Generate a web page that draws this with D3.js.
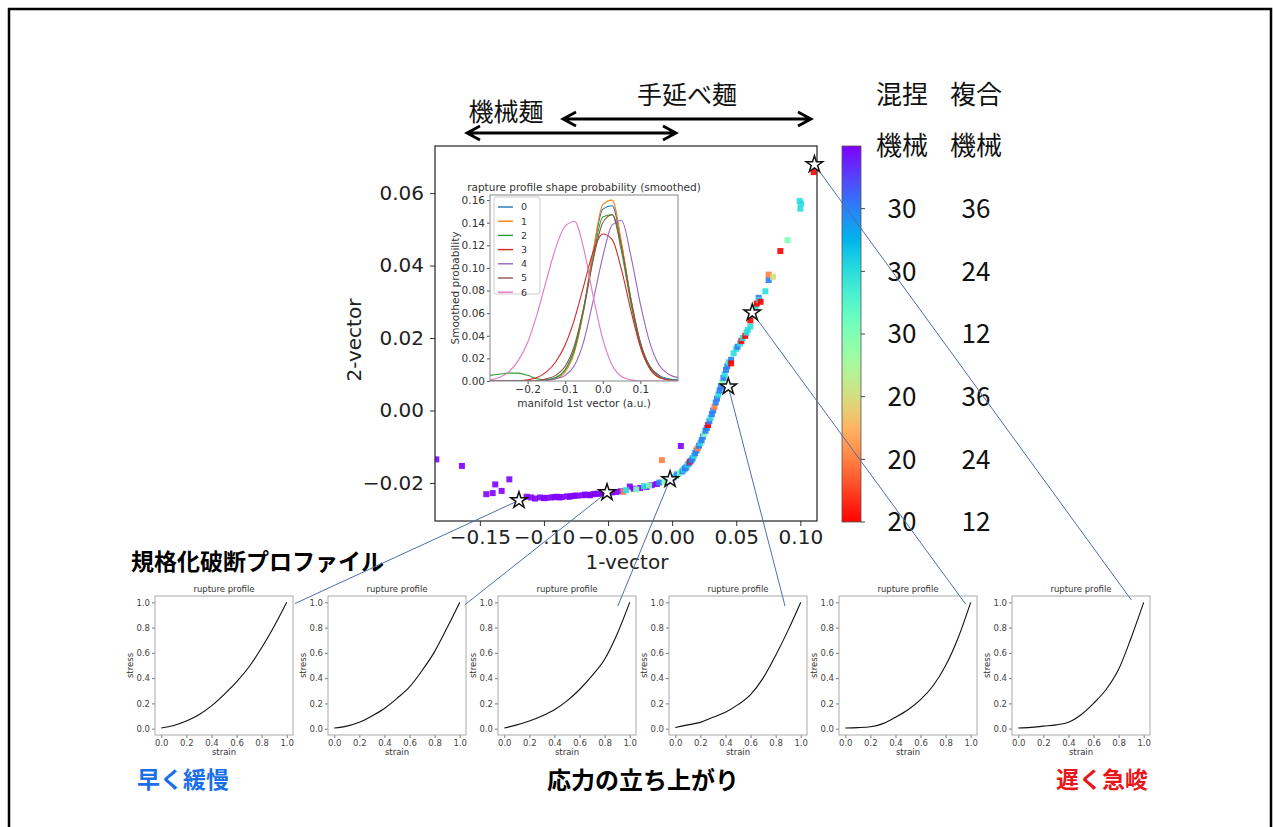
<!DOCTYPE html>
<html>
<head>
<meta charset="utf-8">
<script src="https://cdn.jsdelivr.net/npm/d3@7"></script>
<style>
body { margin: 0; background: #fff; }
svg text { font-family: "DejaVu Sans", sans-serif; }
svg .jp { font-family: "Noto Sans CJK JP", sans-serif; }
</style>
</head>
<body>
<svg id="chart" width="1273" height="827"></svg>
<script>
// ---- scatter of the manifold (1-vector, 2-vector), class 0 = 20/12 ... 6 = machine
const scatterX = [
-0.184,-0.164,-0.145,-0.140,-0.138,-0.133,-0.127,-0.1135,-0.110,-0.107,-0.103,-0.100,-0.098,-0.094,-0.092,-0.090,-0.088,-0.086,-0.082,-0.080,-0.078,-0.076,-0.074,-0.070,-0.068,-0.066,-0.064,-0.062,-0.060,-0.058,-0.056,-0.054,-0.052,-0.047,-0.044,-0.040,-0.033,-0.030,-0.025,-0.020,-0.016,-0.012,0.0068,-0.004,
-0.038,-0.036,-0.028,-0.022,-0.018,-0.010,-0.008,-0.006,-0.003,-0.001,
0.001,0.003,0.004,0.006,0.008,0.009,0.010,0.011,0.012,0.013,0.014,0.015,0.016,0.017,0.018,0.019,0.020,0.021,0.022,0.023,0.024,0.025,0.026,0.027,0.028,0.029,0.030,0.031,0.032,0.033,0.034,0.035,0.036,0.037,0.038,0.039,0.040,0.041,0.042,0.043,0.044,0.046,0.046,0.048,0.050,0.051,0.053,0.054,0.055,0.057,0.058,0.059,0.061,0.061,0.063,0.065,0.066,0.0675,0.068,0.069,0.0727,0.0753,0.0753,0.0787,0.0844,0.090,0.0995,0.1005,0.100,0.1104]
const scatterY = [
-0.0135,-0.0153,-0.0231,-0.0228,-0.0204,-0.0222,-0.0190,-0.0238,-0.0240,-0.0243,-0.0240,-0.0242,-0.0241,-0.0240,-0.0239,-0.0238,-0.0240,-0.0239,-0.0237,-0.0238,-0.0236,-0.0235,-0.0235,-0.0234,-0.0232,-0.0233,-0.0234,-0.0231,-0.0230,-0.0230,-0.0229,-0.0228,-0.0227,-0.0226,-0.0225,-0.0223,-0.0210,-0.0216,-0.0214,-0.0211,-0.0206,-0.0203,-0.0098,-0.0196,
-0.0224,-0.0220,-0.0218,-0.0209,-0.0207,-0.0199,-0.0137,-0.0196,-0.0190,-0.0192,
-0.0185,-0.0180,-0.0176,-0.0172,-0.0168,-0.0163,-0.0160,-0.0157,-0.0150,-0.0146,-0.0141,-0.0138,-0.0132,-0.0125,-0.0118,-0.0110,-0.0104,-0.0097,-0.0090,-0.0082,-0.0072,-0.0065,-0.0056,-0.0048,-0.0040,-0.0030,-0.0020,-0.0010,0.0000,0.0010,0.0022,0.0033,0.0044,0.0055,0.0065,0.0078,0.0090,0.0100,0.0112,0.0122,0.0133,0.0140,0.0130,0.0158,0.0170,0.0176,0.0185,0.0192,0.0200,0.0206,0.0215,0.0222,0.0232,0.0249,0.0265,0.0285,0.0295,0.0311,0.0305,0.0300,0.0329,0.0360,0.0375,0.0369,0.0440,0.0470,0.0578,0.0571,0.0557,0.0658]
const scatterClass = [
6,6,6,6,6,6,6,6,6,6,6,6,6,6,6,6,6,6,6,6,6,6,6,6,6,6,6,6,6,6,6,6,6,6,6,6,6,6,6,6,6,6,6,6,
1,4,3,4,3,5,1,3,4,5,
5,4,5,3,5,4,5,5,4,5,0,5,5,4,5,5,1,5,4,5,5,3,5,5,0,5,4,5,5,1,5,5,4,5,5,3,5,4,5,5,4,5,0,4,4,5,4,0,4,0,4,4,4,0,5,4,0,5,4,0,4,5,1,2,0,3,4,4,4,0]

// stars marking the six profiles shown below
const starX = [-0.1195, -0.0508, -0.0016, 0.0438, 0.0625, 0.111]
const starY = [-0.0248, -0.0226, -0.0190, 0.0066, 0.0270, 0.0679]

// ---- inset: smoothed shape probability per profile class
const probX = [-0.300,-0.275,-0.250,-0.225,-0.200,-0.175,-0.150,-0.125,-0.100,-0.075,-0.050,-0.025,0.000,0.025,0.050,0.075,0.100,0.125,0.150,0.175,0.200]
const prob0 = [0,0,0,0,0,0.0002,0.001,0.003,0.010,0.029,0.066,0.115,0.152,0.155,0.120,0.072,0.034,0.013,0.005,0.002,0.001]
const prob1 = [0,0,0,0,0,0,0.0005,0.002,0.008,0.026,0.064,0.116,0.156,0.160,0.122,0.071,0.031,0.011,0.003,0.001,0]
const prob2 = [0.005,0.006,0.007,0.007,0.005,0.002,0.001,0.003,0.010,0.028,0.064,0.110,0.145,0.147,0.114,0.068,0.031,0.011,0.003,0.001,0]
const prob3 = [0,0,0,0,0.001,0.003,0.008,0.017,0.032,0.055,0.085,0.115,0.130,0.125,0.098,0.062,0.030,0.011,0.003,0.001,0]
const prob4 = [0,0,0,0,0,0,0.0005,0.002,0.005,0.014,0.036,0.072,0.110,0.138,0.142,0.110,0.068,0.034,0.014,0.006,0.003]
const prob5 = [0,0,0,0,0,0.0005,0.002,0.005,0.013,0.032,0.066,0.108,0.140,0.147,0.118,0.072,0.034,0.013,0.004,0.001,0]
const prob6 = [0.001,0.003,0.008,0.018,0.034,0.059,0.089,0.118,0.137,0.141,0.116,0.074,0.037,0.014,0.004,0.001,0,0,0,0,0]
const probSeries = [prob0, prob1, prob2, prob3, prob4, prob5, prob6]
const probLabels = ["0","1","2","3","4","5","6"]
const probColors = ["#1f77b4","#ff7f0e","#2ca02c","#d62728","#9467bd","#8c564b","#e377c2"]

// ---- normalised rupture profiles (strain vs stress)
const profileX = [0,0.1,0.2,0.3,0.4,0.5,0.6,0.7,0.8,0.9,1.0]
const profile1 = [0.005,0.025,0.06,0.11,0.18,0.27,0.37,0.49,0.64,0.81,1.0]
const profile2 = [0.005,0.02,0.05,0.10,0.16,0.24,0.33,0.46,0.61,0.80,1.0]
const profile3 = [0.005,0.03,0.06,0.10,0.15,0.22,0.31,0.42,0.55,0.75,1.0]
const profile4 = [0.01,0.03,0.05,0.09,0.13,0.19,0.27,0.40,0.58,0.78,1.0]
const profile5 = [0.005,0.008,0.015,0.04,0.09,0.15,0.23,0.34,0.50,0.72,1.0]
const profile6 = [0.005,0.01,0.02,0.03,0.05,0.11,0.20,0.31,0.47,0.72,1.0]
const profiles = [profile1, profile2, profile3, profile4, profile5, profile6]
// where each connector line lands inside its small plot (strain, stress)
const connectEnd = [[1.065,0.99],[1.04,0.98],[0.905,0.97],[0.875,0.97],[0.96,0.985],[0.9,1.02]]

// ---- colour bar labels (kneading / compound), bottom to top
const cbarColA = ["20","20","20","30","30","30","機械"]
const cbarColB = ["12","24","36","12","24","36","機械"]

const svg = d3.select("#chart")

// matplotlib "rainbow" colormap
function rainbow(t) {
    const r = Math.min(1, Math.abs(2 * t - 0.5)),
          g = Math.sin(Math.PI * t),
          b = Math.cos(Math.PI * t / 2)
    return d3.rgb(r * 255, g * 255, Math.max(0, b) * 255).formatHex()
}
const classColor = c => rainbow(1 - c / 6)

// outer frame
svg.append("rect")
    .attr("x", 9).attr("y", 9).attr("width", 1262).attr("height", 840)
    .attr("fill", "none").attr("stroke", "#000").attr("stroke-width", 2.5)

// ================= main scatter =================
const dims = { left: 435, right: 817, top: 146, bottom: 521 }
const xScale = d3.scaleLinear().domain([-0.185, 0.113]).range([dims.left, dims.right])
const yScale = d3.scaleLinear().domain([-0.0305, 0.073]).range([dims.bottom, dims.top])

const fmt2 = d3.format(".2f")
const xAxis = svg.append("g")
    .attr("transform", `translate(0,${dims.bottom})`)
    .call(d3.axisBottom(xScale).tickValues([-0.15,-0.10,-0.05,0,0.05,0.10]).tickFormat(fmt2).tickSizeOuter(0).tickSize(5).tickPadding(4))
const yAxis = svg.append("g")
    .attr("transform", `translate(${dims.left},0)`)
    .call(d3.axisLeft(yScale).tickValues([-0.02,0,0.02,0.04,0.06]).tickFormat(fmt2).tickSizeOuter(0).tickSize(5).tickPadding(6))
;[xAxis, yAxis].forEach(a => {
    a.select(".domain").remove()
    a.selectAll("text").attr("font-size", 20).attr("fill", "#222")
    a.selectAll(".tick line").attr("stroke", "#333")
})

svg.append("text").attr("x", 627).attr("y", 569).attr("text-anchor", "middle")
    .attr("font-size", 20).attr("fill", "#222").text("1-vector")
svg.append("text").attr("transform", "translate(361,340) rotate(-90)").attr("text-anchor", "middle")
    .attr("font-size", 20).attr("fill", "#222").text("2-vector")

const plotArea = svg.append("g")
svg.append("clipPath").attr("id", "mainClip").append("rect")
    .attr("x", dims.left).attr("y", dims.top)
    .attr("width", dims.right - dims.left).attr("height", dims.bottom - dims.top)
plotArea.attr("clip-path", "url(#mainClip)")
    .selectAll("rect.pt")
    .data(d3.range(scatterX.length))
    .join("rect")
    .attr("class", "pt")
    .attr("x", i => xScale(scatterX[i]) - 3)
    .attr("y", i => yScale(scatterY[i]) - 3)
    .attr("width", 6).attr("height", 6)
    .attr("fill", i => classColor(scatterClass[i]))
    .attr("opacity", 0.9)

svg.append("rect")
    .attr("x", dims.left).attr("y", dims.top)
    .attr("width", dims.right - dims.left).attr("height", dims.bottom - dims.top)
    .attr("fill", "none").attr("stroke", "#222").attr("stroke-width", 1.2)

// ================= inset =================
const ins = { left: 490, right: 678, top: 195, bottom: 381 }
const insX = d3.scaleLinear().domain([-0.3, 0.2]).range([ins.left, ins.right])
const insY = d3.scaleLinear().domain([0, 0.1645]).range([ins.bottom, ins.top])

svg.append("rect").attr("x", 446).attr("y", 176).attr("width", 246).attr("height", 236).attr("fill", "#fff")

const insXAxis = svg.append("g").attr("transform", `translate(0,${ins.bottom})`)
    .call(d3.axisBottom(insX).tickValues([-0.2,-0.1,0,0.1]).tickFormat(d3.format(".1f")).tickSize(3).tickSizeOuter(0).tickPadding(2))
const insYAxis = svg.append("g").attr("transform", `translate(${ins.left},0)`)
    .call(d3.axisLeft(insY).tickValues(d3.range(0, 0.161, 0.02)).tickFormat(fmt2).tickSize(3).tickSizeOuter(0).tickPadding(2))
;[insXAxis, insYAxis].forEach(a => {
    a.select(".domain").remove()
    a.selectAll("text").attr("font-size", 10.5).attr("fill", "#333")
    a.selectAll(".tick line").attr("stroke", "#555")
})

svg.append("clipPath").attr("id", "insClip").append("rect")
    .attr("x", ins.left).attr("y", ins.top).attr("width", ins.right - ins.left).attr("height", ins.bottom - ins.top)

const probLine = d3.line()
    .x((d, i) => insX(probX[i]))
    .y(d => insY(d))
    .curve(d3.curveMonotoneX)

svg.append("g").attr("clip-path", "url(#insClip)")
    .selectAll("path")
    .data(probSeries)
    .join("path")
    .attr("d", probLine)
    .attr("fill", "none")
    .attr("stroke", (d, i) => probColors[i])
    .attr("stroke-width", 1.1)

svg.append("rect")
    .attr("x", ins.left).attr("y", ins.top).attr("width", ins.right - ins.left).attr("height", ins.bottom - ins.top)
    .attr("fill", "none").attr("stroke", "#888")

svg.append("text").attr("x", 584).attr("y", 191).attr("text-anchor", "middle")
    .attr("font-size", 10.5).attr("fill", "#333").text("rapture profile shape probability (smoothed)")
svg.append("text").attr("x", 584).attr("y", 407).attr("text-anchor", "middle")
    .attr("font-size", 10.5).attr("fill", "#333").text("manifold 1st vector (a.u.)")
svg.append("text").attr("transform", "translate(459,288) rotate(-90)").attr("text-anchor", "middle")
    .attr("font-size", 10.5).attr("fill", "#333").text("Smoothed probability")

// legend
const legend = svg.append("g").attr("transform", "translate(494,197)")
legend.append("rect").attr("width", 46).attr("height", 97).attr("rx", 2)
    .attr("fill", "#fff").attr("stroke", "#ccc")
const legRow = legend.selectAll("g").data(probLabels).join("g")
    .attr("transform", (d, i) => `translate(0,${10 + i * 14.2})`)
legRow.append("line").attr("x1", 4).attr("x2", 19).attr("stroke", (d, i) => probColors[i]).attr("stroke-width", 1.4)
legRow.append("text").attr("x", 27).attr("dy", "0.35em").attr("font-size", 9.5).attr("fill", "#333").text(d => d)

// ================= colour bar =================
const cbar = { x: 842, w: 19 }
const cScale = d3.scaleLinear().domain([0, 6]).range([522, 146])
const grad = svg.append("defs").append("linearGradient").attr("id", "rainbowGrad")
    .attr("x1", 0).attr("y1", 0).attr("x2", 0).attr("y2", 1)
grad.selectAll("stop").data(d3.range(0, 1.001, 0.05)).join("stop")
    .attr("offset", d => d).attr("stop-color", d => rainbow(d))
svg.append("rect").attr("x", cbar.x).attr("y", cScale(6)).attr("width", cbar.w).attr("height", cScale(0) - cScale(6))
    .attr("fill", "url(#rainbowGrad)").attr("stroke", "#555").attr("stroke-width", 0.8)
svg.append("g").selectAll("line").data(d3.range(0, 6)).join("line")
    .attr("x1", cbar.x + cbar.w).attr("x2", cbar.x + cbar.w + 4)
    .attr("y1", d => cScale(d)).attr("y2", d => cScale(d)).attr("stroke", "#444")

const cbLabels = svg.append("g").attr("class", "jp").attr("font-size", 26).attr("fill", "#111").attr("text-anchor", "middle")
cbLabels.selectAll("text.a").data(cbarColA).join("text").attr("class", "a jp")
    .attr("x", 902).attr("y", (d, i) => cScale(i)).attr("dy", "0.36em").text(d => d)
cbLabels.selectAll("text.b").data(cbarColB).join("text").attr("class", "b jp")
    .attr("x", 976).attr("y", (d, i) => cScale(i)).attr("dy", "0.36em").text(d => d)
cbLabels.append("text").attr("class", "jp").attr("x", 902).attr("y", 95).attr("dy", "0.36em").text("混捏")
cbLabels.append("text").attr("class", "jp").attr("x", 976).attr("y", 95).attr("dy", "0.36em").text("複合")

// ================= top annotations =================
svg.append("text").attr("class", "jp").attr("x", 506).attr("y", 112).attr("dy", "0.36em")
    .attr("text-anchor", "middle").attr("font-size", 25).attr("fill", "#111").text("機械麺")
svg.append("text").attr("class", "jp").attr("x", 687).attr("y", 95).attr("dy", "0.36em")
    .attr("text-anchor", "middle").attr("font-size", 25).attr("fill", "#111").text("手延べ麺")

function doubleArrow(x1, x2, y) {
    const h = 13, v = 7
    svg.append("path")
        .attr("d", `M${x1},${y}H${x2} M${x1 + h},${y - v}L${x1},${y}L${x1 + h},${y + v} M${x2 - h},${y - v}L${x2},${y}L${x2 - h},${y + v}`)
        .attr("fill", "none").attr("stroke", "#000").attr("stroke-width", 2.8)
}
doubleArrow(467, 676, 133)
doubleArrow(563, 811, 119)

// ================= small rupture profile plots =================
const smallLefts = [155, 328, 498, 669, 839, 1012]
const smallW = 138, smallTop = 596, smallH = 139
const smallY = d3.scaleLinear().domain([-0.05, 1.05]).range([smallTop + smallH, smallTop])
const connectPts = []

profiles.forEach((prof, k) => {
    const left = smallLefts[k]
    const sx = d3.scaleLinear().domain([-0.05, 1.05]).range([left, left + smallW])
    const g = svg.append("g")
    const ax = g.append("g").attr("transform", `translate(0,${smallTop + smallH})`)
        .call(d3.axisBottom(sx).tickValues(d3.range(0, 1.01, 0.2)).tickFormat(d3.format(".1f")).tickSize(3).tickSizeOuter(0).tickPadding(2))
    const ay = g.append("g").attr("transform", `translate(${left},0)`)
        .call(d3.axisLeft(smallY).tickValues(d3.range(0, 1.01, 0.2)).tickFormat(d3.format(".1f")).tickSize(3).tickSizeOuter(0).tickPadding(2))
    ;[ax, ay].forEach(a => {
        a.select(".domain").remove()
        a.selectAll("text").attr("font-size", 8.5).attr("fill", "#444")
        a.selectAll(".tick line").attr("stroke", "#777")
    })
    g.append("rect").attr("x", left).attr("y", smallTop).attr("width", smallW).attr("height", smallH)
        .attr("fill", "none").attr("stroke", "#aaa")
    g.append("path")
        .datum(prof)
        .attr("d", d3.line().x((d, i) => sx(profileX[i])).y(d => smallY(d)).curve(d3.curveMonotoneX))
        .attr("fill", "none").attr("stroke", "#111").attr("stroke-width", 1.1)
    g.append("text").attr("x", left + smallW / 2).attr("y", smallTop - 4).attr("text-anchor", "middle")
        .attr("font-size", 8.5).attr("fill", "#333").text("rupture profile")
    g.append("text").attr("x", left + smallW / 2).attr("y", smallTop + smallH + 20).attr("text-anchor", "middle")
        .attr("font-size", 8.5).attr("fill", "#333").text("strain")
    g.append("text").attr("transform", `translate(${left - 22},${smallTop + smallH / 2}) rotate(-90)`)
        .attr("text-anchor", "middle").attr("font-size", 8.5).attr("fill", "#333").text("stress")
    connectPts.push([sx(connectEnd[k][0]), smallY(connectEnd[k][1])])
})

// ================= captions =================
svg.append("text").attr("class", "jp").attr("x", 131).attr("y", 562).attr("dy", "0.36em")
    .attr("font-size", 23).attr("font-weight", 700).attr("fill", "#000").text("規格化破断プロファイル")
svg.append("text").attr("class", "jp").attr("x", 137).attr("y", 780).attr("dy", "0.36em")
    .attr("font-size", 23).attr("font-weight", 700).attr("fill", "#1a6ee8").text("早く緩慢")
svg.append("text").attr("class", "jp").attr("x", 643).attr("y", 780).attr("dy", "0.36em").attr("text-anchor", "middle")
    .attr("font-size", 24).attr("font-weight", 700).attr("fill", "#000").text("応力の立ち上がり")
svg.append("text").attr("class", "jp").attr("x", 1056).attr("y", 780).attr("dy", "0.36em")
    .attr("font-size", 23).attr("font-weight", 700).attr("fill", "#e8151b").text("遅く急峻")

// connectors from each star to its profile plot
svg.append("g").selectAll("line")
    .data(starX)
    .join("line")
    .attr("x1", (d, i) => xScale(d)).attr("y1", (d, i) => yScale(starY[i]))
    .attr("x2", (d, i) => connectPts[i][0]).attr("y2", (d, i) => connectPts[i][1])
    .attr("stroke", "#4e6fa8").attr("stroke-width", 1)

// stars on top of the connectors
svg.append("g").selectAll("path")
    .data(starX)
    .join("path")
    .attr("transform", (d, i) => `translate(${xScale(d)},${yScale(starY[i])})`)
    .attr("d", d3.symbol().type(d3.symbolStar).size(85))
    .attr("fill", "#fff").attr("stroke", "#111").attr("stroke-width", 1.5)
</script>
</body>
</html>
